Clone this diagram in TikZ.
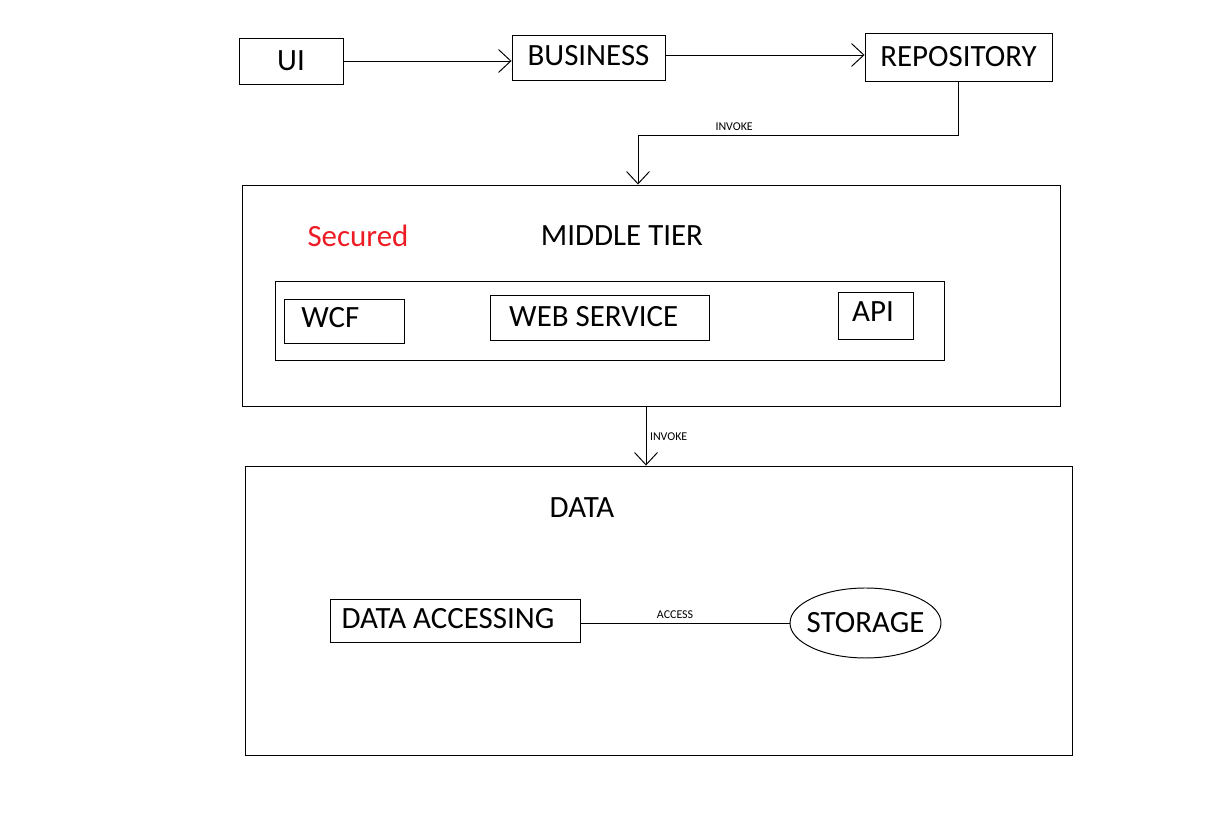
\documentclass[tikz,border=0pt]{standalone}
\usepackage{fontspec}
\setmainfont{Carlito}
\usepackage{xcolor}
\usepackage{tikz}
\usetikzlibrary{positioning, arrows.meta, calc, shapes.geometric}

\definecolor{paintred}{RGB}{237,28,36}

\begin{document}
\begin{tikzpicture}[ x = 0.02cm
                     , y = -0.02cm
                     , line width = 0.55pt
                     , font = \fontsize{17.6}{20}\selectfont
                     , >={Straight Barb[length=7pt, width=13pt, line width=0.55pt]}
                     , box/.style = { rectangle
                                    , draw = black
                                    , inner sep = 0pt
                                    , align = center }
                     , title/.style = { inner sep = 0pt }
                     , tag/.style = { font = \fontsize{6.8}{8}\selectfont
                                    , inner sep = 2pt }
                     ]
  \useasboundingbox (0,0) rectangle (1232,813);

  % top row
  \node (ui) [box, minimum width = 2.08cm, minimum height = 0.92cm] at (291,61) {UI};
  \node (business) [box, minimum width = 3.06cm, minimum height = 0.9cm] at (588.5,57.5) {\raisebox{2pt}{BUSINESS}};
  \node (repository) [box, minimum width = 3.74cm, minimum height = 0.96cm] at (958.5,57) {REPOSITORY};

  % middle tier
  \node (middle) [box, minimum width = 16.38cm, minimum height = 4.44cm] at (651.5,296) {};
  \node (secured) [title, text = paintred] at (358,236) {Secured};
  \node (midtitle) [title] at (622,236) {MIDDLE TIER};
  \node (services) [box, minimum width = 13.4cm, minimum height = 1.58cm] at (610,320.5) {};
  \node (wcf) [box, minimum width = 2.4cm, minimum height = 0.88cm] at (344,321) {\raisebox{4pt}{WCF}\hspace{0.55cm}};
  \node (web) [box, minimum width = 4.4cm, minimum height = 0.9cm] at (600,317.5) {\raisebox{1pt}{WEB SERVICE}\hspace{0.25cm}};
  \node (api) [box, minimum width = 1.5cm, minimum height = 0.94cm] at (875.5,315.5) {\raisebox{4pt}{API}\hspace{0.1cm}};

  % data
  \node (data) [box, minimum width = 16.56cm, minimum height = 5.8cm] at (659,611) {};
  \node (datatitle) [title] at (582,508) {DATA};
  \node (access) [box, minimum width = 5.02cm, minimum height = 0.86cm] at (455.5,620.5) {\raisebox{2pt}{DATA ACCESSING}\hspace{0.3cm}};
  \node (storage) [ellipse, draw = black, inner sep = 0pt, minimum width = 3.02cm, minimum height = 1.4cm] at (865.5,623) {\makebox[0pt]{STORAGE}};

  \coordinate (turn) at (638,135);
  \coordinate (down) at ([xshift=-0.11cm]middle.south);

  \draw[->] (ui.east) -- (ui.east -| business.west);
  \draw[->] ([yshift=0.05cm]business.east) -- ([yshift=0.05cm]business.east -| repository.west);
  \draw[->] (repository.south) |- node [tag, pos = 0.85, above] {INVOKE} (turn) -- (turn |- middle.north);
  \draw[->] (down) -- node [tag, right] {INVOKE} (down |- data.north);
  \draw (access.east |- storage.west) -- node [tag, pos = 0.45, above] {ACCESS} (storage.west);

\end{tikzpicture}
\end{document}
